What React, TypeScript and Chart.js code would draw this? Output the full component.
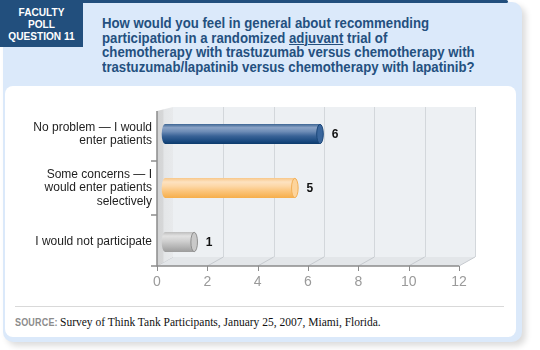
import React, { useEffect, useRef } from "react";
import { Chart, registerables } from "chart.js";

Chart.register(...registerables);

const categories: (string | string[])[] = [
  ["No problem — I would", "enter patients"],
  ["Some concerns — I", "would enter patients", "selectively"],
  "I would not participate",
];
const responses: number[] = [6, 5, 1];
const xTicks: number[] = [0, 2, 4, 6, 8, 10, 12];
const xMin = 0;
const xMax = 12;

const questionLines: string[] = [
  "How would you feel in general about recommending",
  "participation in a randomized |adjuvant| trial of",
  "chemotherapy with trastuzumab versus chemotherapy with",
  "trastuzumab/lapatinib versus chemotherapy with lapatinib?",
];
const badgeLines: string[] = ["FACULTY", "POLL", "QUESTION 11"];
const sourceLabel = "SOURCE:";
const sourceText = "Survey of Think Tank Participants, January 25, 2007, Miami, Florida.";

type Palette = { stops: [number, string][]; cap: string; capEdge: string };
const palettes: Palette[] = [
  {
    stops: [
      [0, "#3d6593"],
      [0.18, "#8aa3c6"],
      [0.38, "#6d8cb6"],
      [0.6, "#3a6397"],
      [0.85, "#1a4a80"],
      [1, "#0c3a6c"],
    ],
    cap: "#3a669c",
    capEdge: "#1b477a",
  },
  {
    stops: [
      [0, "#f8c789"],
      [0.2, "#fde2c0"],
      [0.4, "#fdd8a8"],
      [0.65, "#fbc57c"],
      [1, "#f6ae4a"],
    ],
    cap: "#fdd49c",
    capEdge: "#f3b056",
  },
  {
    stops: [
      [0, "#bdbdbd"],
      [0.2, "#e2e2e2"],
      [0.45, "#d0d0d0"],
      [0.75, "#b4b4b4"],
      [1, "#9c9c9c"],
    ],
    cap: "#c9c9c9",
    capEdge: "#8f8f8f",
  },
];

const DX = 16;
const DY = 9;

const frame3d = {
  id: "frame3d",
  beforeDatasetsDraw(chart: any) {
    const { ctx, chartArea, scales } = chart;
    const xs = scales.x;
    const ys = scales.y;
    const f0 = xs.getPixelForValue(xMin);
    const f12 = xs.getPixelForValue(xMax);
    const fb = chartArea.bottom - 3;
    const bb = fb - DY;
    const top = chartArea.top;
    ctx.save();
    ctx.fillStyle = "#edf0f3";
    ctx.fillRect(f0 + DX, top, f12 - f0, bb - top);
    ctx.strokeStyle = "#d3d7db";
    ctx.lineWidth = 1;
    xTicks.forEach((v) => {
      if (v === xMin) return;
      const x = Math.round(xs.getPixelForValue(v) + DX) + 0.5;
      ctx.beginPath();
      ctx.moveTo(x, top);
      ctx.lineTo(x, bb);
      ctx.stroke();
    });
    ctx.fillStyle = "#e3e6e9";
    ctx.beginPath();
    ctx.moveTo(f0, fb);
    ctx.lineTo(f12, fb);
    ctx.lineTo(f12 + DX, bb);
    ctx.lineTo(f0 + DX, bb);
    ctx.closePath();
    ctx.fill();
    ctx.strokeStyle = "#c6cacf";
    xTicks.forEach((v) => {
      const x = xs.getPixelForValue(v);
      ctx.beginPath();
      ctx.moveTo(x, fb);
      ctx.lineTo(x + DX, bb);
      ctx.stroke();
    });
    const g = ctx.createLinearGradient(f0, 0, f0 + DX, 0);
    g.addColorStop(0, "#d2d3d4");
    g.addColorStop(0.35, "#d6d7d8");
    g.addColorStop(0.45, "#e4e6e8");
    g.addColorStop(1, "#e8eaec");
    ctx.fillStyle = g;
    ctx.beginPath();
    ctx.moveTo(f0, top + 4);
    ctx.lineTo(f0 + DX, top);
    ctx.lineTo(f0 + DX, bb);
    ctx.lineTo(f0, fb);
    ctx.closePath();
    ctx.fill();
    ctx.strokeStyle = "#8c8c8c";
    ctx.lineWidth = 1.5;
    ctx.beginPath();
    ctx.moveTo(f0, top + 4);
    ctx.lineTo(f0, fb);
    ctx.lineTo(f12, fb);
    ctx.stroke();
    ctx.lineWidth = 1;
    xTicks.forEach((v) => {
      const x = Math.round(xs.getPixelForValue(v)) + 0.5;
      ctx.beginPath();
      ctx.moveTo(x, fb);
      ctx.lineTo(x, fb + 5);
      ctx.stroke();
    });
    const n = categories.length;
    const bounds: number[] = [];
    for (let i = 0; i < n - 1; i++) {
      bounds.push((ys.getPixelForValue(i) + ys.getPixelForValue(i + 1)) / 2);
    }
    bounds.push(fb);
    ctx.lineWidth = 1.5;
    bounds.forEach((y) => {
      ctx.beginPath();
      ctx.moveTo(f0 - 6, y);
      ctx.lineTo(f0, y);
      ctx.stroke();
    });
    ctx.restore();
  },
  afterDatasetsDraw(chart: any) {
    const { ctx } = chart;
    const meta = chart.getDatasetMeta(0);
    ctx.save();
    meta.data.forEach((el: any, i: number) => {
      const p = palettes[i % palettes.length];
      const h = el.height;
      const r = h / 2;
      const cy = el.y;
      const x0 = el.base + 8;
      const x1 = el.x + 12;
      const rx = 3.3;
      const grad = ctx.createLinearGradient(0, cy - r, 0, cy + r);
      p.stops.forEach(([o, c]) => grad.addColorStop(o, c));
      ctx.fillStyle = grad;
      ctx.beginPath();
      ctx.moveTo(x1, cy - r);
      ctx.lineTo(x0, cy - r);
      ctx.ellipse(x0, cy, rx, r, 0, -Math.PI / 2, Math.PI / 2, true);
      ctx.lineTo(x1, cy + r);
      ctx.closePath();
      ctx.fill();
      ctx.beginPath();
      ctx.ellipse(x1, cy, rx, r - 0.3, 0, 0, Math.PI * 2);
      ctx.fillStyle = p.cap;
      ctx.fill();
      ctx.strokeStyle = p.capEdge;
      ctx.lineWidth = 1;
      ctx.stroke();
      ctx.fillStyle = "#111";
      ctx.font = "bold 12px 'Liberation Sans', Arial, sans-serif";
      ctx.textAlign = "center";
      ctx.textBaseline = "middle";
      ctx.fillText(String(responses[i]), x1 + 15, cy + 1);
    });
    ctx.restore();
  },
};

function ChartBox() {
  const ref = useRef<HTMLCanvasElement>(null);
  useEffect(() => {
    if (!ref.current) return;
    const chart = new Chart(ref.current, {
      type: "bar",
      data: {
        labels: categories as any,
        datasets: [
          {
            data: responses,
            backgroundColor: "rgba(0,0,0,0)",
            borderWidth: 0,
            barThickness: 20,
          },
        ],
      },
      options: {
        indexAxis: "y",
        animation: false,
        responsive: false,
        maintainAspectRatio: false,
        layout: { padding: { top: 19, right: 71, left: 0, bottom: 0 } },
        plugins: { legend: { display: false }, tooltip: { enabled: false } },
        scales: {
          x: {
            min: xMin,
            max: xMax,
            afterFit: (s: any) => {
              s.height = 31;
            },
            afterBuildTicks: (s: any) => {
              s.ticks = xTicks.map((v) => ({ value: v }));
            },
            grid: { display: false, drawTicks: false },
            border: { display: false },
            ticks: {
              color: "#9a9a9a",
              padding: 5,
              font: { family: "'Liberation Sans', Arial, sans-serif", size: 14 },
            },
          },
          y: {
            afterFit: (s: any) => {
              s.width = 157;
            },
            grid: { display: false, drawTicks: false },
            border: { display: false },
            ticks: {
              color: "#1e1e1e",
              padding: 5,
              font: { family: "'Liberation Sans', Arial, sans-serif", size: 12, lineHeight: 1.12 },
            },
          },
        },
      },
      plugins: [frame3d],
    });
    return () => chart.destroy();
  }, []);
  return (
    <canvas
      ref={ref}
      width={530}
      height={212}
      style={{ position: "absolute", left: 0, top: 88, width: 530, height: 212 }}
    />
  );
}

const sans = "'Liberation Sans', Arial, sans-serif";

export default function App() {
  return (
    <div
      style={{
        position: "fixed",
        left: 0,
        top: 0,
        width: 540,
        height: 350,
        background: "#ffffff",
        overflow: "hidden",
      }}
    >
      <div
        style={{
          position: "absolute",
          left: 3,
          top: 2,
          width: 519,
          height: 340,
          borderRadius: 10,
          background: "#dbe9fa",
          boxShadow: "4px 4px 6px rgba(0,0,0,0.14)",
        }}
      />
      <div
        style={{
          position: "absolute",
          left: 82,
          top: 0,
          width: 426,
          height: 3,
          background: "#224f7d",
          borderRadius: "0 2px 2px 0",
        }}
      />
      <div
        style={{
          position: "absolute",
          left: 5,
          top: 86,
          width: 511,
          height: 251,
          borderRadius: 8,
          background: "#ffffff",
        }}
      />
      <div
        style={{
          position: "absolute",
          left: 0,
          top: 0,
          width: 83,
          height: 47,
          background: "#224f7d",
          color: "#ffffff",
          fontFamily: sans,
          fontWeight: "bold",
          fontSize: 11.5,
          lineHeight: "12.25px",
          textAlign: "center",
          paddingTop: 5.5,
          boxSizing: "border-box",
        }}
      >
        {badgeLines.map((l, i) => (
          <div key={i} style={{ transform: "scaleX(0.88)", transformOrigin: "center", whiteSpace: "nowrap" }}>
            {l}
          </div>
        ))}
      </div>
      <div
        style={{
          position: "absolute",
          left: 102,
          top: 16,
          color: "#24507f",
          fontFamily: sans,
          fontWeight: "bold",
          fontSize: 15,
          lineHeight: "14.5px",
          whiteSpace: "nowrap",
          transform: "scaleX(0.88)",
          transformOrigin: "left top",
        }}
      >
        {questionLines.map((l, i) => {
          const parts = l.split("|");
          return (
            <div key={i}>
              {parts.map((p, j) =>
                j % 2 === 1 ? (
                  <span key={j} style={{ textDecoration: "underline" }}>
                    {p}
                  </span>
                ) : (
                  <span key={j}>{p}</span>
                )
              )}
            </div>
          );
        })}
      </div>
      <ChartBox />
      <div
        style={{
          position: "absolute",
          left: 15,
          top: 306,
          width: 489,
          height: 1,
          background: "#d9d9d9",
        }}
      />
      <div
        style={{
          position: "absolute",
          left: 15,
          top: 315,
          whiteSpace: "nowrap",
          fontSize: 11.5,
          lineHeight: "14px",
        }}
      >
        <span
          style={{
            display: "inline-block",
            fontFamily: sans,
            fontWeight: "bold",
            color: "#8c8c8c",
            fontSize: 10,
            letterSpacing: 0.2,
            transform: "scaleX(0.9)",
            transformOrigin: "left center",
            width: 43,
          }}
        >
          {sourceLabel}
        </span>
        <span style={{ fontFamily: "'Liberation Serif', 'Times New Roman', serif", color: "#111", marginLeft: 2 }}>
          {sourceText}
        </span>
      </div>
    </div>
  );
}
